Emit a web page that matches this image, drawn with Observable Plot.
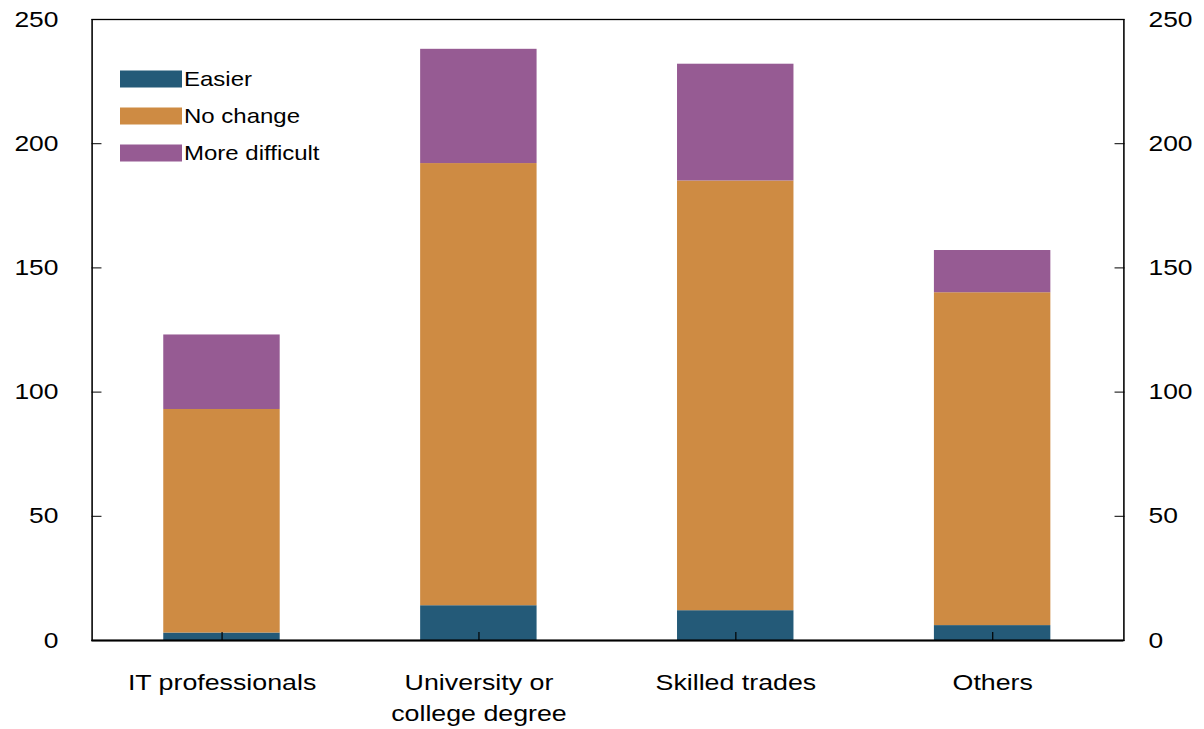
<!DOCTYPE html>
<html>
<head>
<meta charset="utf-8">
<script src="https://cdn.jsdelivr.net/npm/d3@7"></script>
<script src="https://cdn.jsdelivr.net/npm/@observablehq/plot@0.6"></script>
<style>
  html, body { margin: 0; padding: 0; background: #fff; }
  #chart { width: 1204px; height: 729px; overflow: hidden; }
</style>
</head>
<body>
<div id="chart"></div>
<script>
const categories = ["IT professionals", "University or college degree", "Skilled trades", "Others"];
const tickLabels = ["IT professionals", "University or\ncollege degree", "Skilled trades", "Others"];
const seriesNames = ["Easier", "No change", "More difficult"];
const seriesColors = ["#245a78", "#ce8b43", "#965b93"];
const easier = [3, 14, 12, 6];
const noChange = [90, 178, 173, 134];
const moreDifficult = [30, 46, 47, 17];
const yTicks = [0, 50, 100, 150, 200, 250];

const seriesValues = [easier, noChange, moreDifficult];
const rows = [];
seriesNames.forEach((s, si) => {
  categories.forEach((c, ci) => rows.push({category: c, series: s, value: seriesValues[si][ci]}));
});
const labelOf = new Map(categories.map((c, i) => [c, tickLabels[i]]));

// The reference is horizontally stretched; draw at a narrower width and stretch the SVG.
const OUT_W = 1204, H = 729, SX = 1.2;
const W = Math.round(OUT_W / SX);
const sx = OUT_W / W;

const svg = Plot.plot({
  width: W,
  height: H,
  marginLeft: 91.5 / sx,
  marginRight: (OUT_W - 1123.3) / sx,
  marginTop: 19,
  marginBottom: 89,
  style: {fontFamily: "'Liberation Sans', Arial, sans-serif", fontSize: "22px", color: "#000", background: "#fff"},
  x: {domain: categories, paddingInner: 0.5465, paddingOuter: 0.27325},
  y: {domain: [0, 250]},
  color: {domain: seriesNames, range: seriesColors},
  marks: [
    Plot.barY(rows, Plot.stackY({x: "category", y: "value", fill: "series", order: seriesNames})),
    Plot.axisY({anchor: "left", ticks: yTicks, tickSize: -8.3, tickPadding: 8.3 + 28, fontSize: 22, label: null}),
    Plot.axisY({anchor: "right", ticks: yTicks, tickSize: -8.3, tickPadding: 8.3 + 20.5, fontSize: 22, label: null}),
    Plot.axisX({anchor: "bottom", tickSize: -8, tickPadding: 8 + 28, fontSize: 22.3, lineHeight: 1.38, tickFormat: d => labelOf.get(d), label: null}),
    Plot.frame({stroke: "#000", strokeWidth: 1.3}),
    Plot.ruleY([0], {stroke: "#000", strokeWidth: 2})
  ]
});

svg.setAttribute("width", OUT_W);
svg.setAttribute("height", H);
svg.setAttribute("viewBox", `0 0 ${W} ${H}`);
svg.setAttribute("preserveAspectRatio", "none");
svg.style.width = OUT_W + "px";
svg.style.height = H + "px";
svg.style.maxWidth = "none";

// Legend (inside the plot frame, top-left)
const lg = d3.select(svg).append("g").attr("class", "legend").attr("text-anchor", "start");
const lx = 120 / sx, sw = 62 / sx, sh = 17, ly0 = 79, lstep = 37;
seriesNames.forEach((s, i) => {
  const cy = ly0 + i * lstep;
  lg.append("rect").attr("x", lx).attr("y", cy - sh / 2).attr("width", sw).attr("height", sh).attr("fill", seriesColors[i]);
  lg.append("text").attr("x", lx + sw + 2 / sx).attr("y", cy).attr("dy", "0.35em")
    .attr("text-anchor", "start")
    .attr("font-size", 20).attr("fill", "#000").attr("font-family", "'Liberation Sans', Arial, sans-serif").text(s);
});

document.getElementById("chart").appendChild(svg);
</script>
</body>
</html>
